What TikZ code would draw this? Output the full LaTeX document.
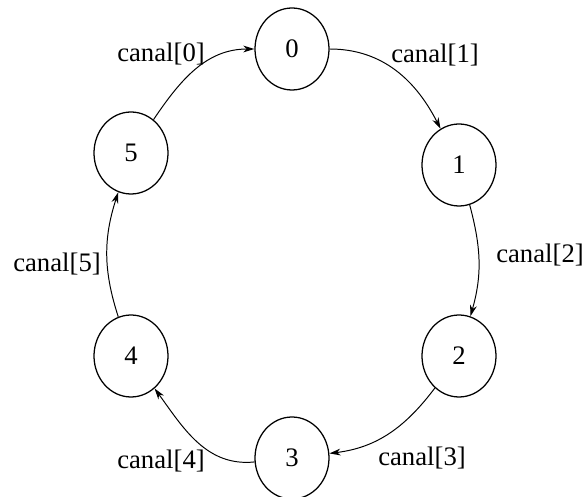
\documentclass[tikz,border=0pt]{standalone}
\usepackage{fontspec}
\setmainfont{Liberation Serif}
\usetikzlibrary{arrows.meta,shapes.geometric}

\begin{document}
\begin{tikzpicture}[
    >={Stealth[length=2.8mm, width=1.7mm, inset=0.9mm]},
    font=\fontsize{19}{22}\selectfont,
    proc/.style={draw, ellipse, line width=0.9pt, inner sep=0pt,
      minimum width=1.85cm, minimum height=2.05cm},
    chan/.style={inner sep=0pt},
    link/.style={->, line width=0.7pt},
  ]
  \useasboundingbox (0,0) rectangle (14.625,-12.425);

  % Processes
  \node[proc] (p0) at (7.3, -1.225) {0};
  \node[proc] (p1) at (11.475, -4.125) {1};
  \node[proc] (p2) at (11.475, -8.9) {2};
  \node[proc] (p3) at (7.3, -11.45) {3};
  \node[proc] (p4) at (3.275, -8.9) {4};
  \node[proc] (p5) at (3.275, -3.825) {5};

  % Channel labels
  \node[chan] (c0) at (4.025, -1.35) {canal[0]};
  \node[chan] (c1) at (10.875, -1.375) {canal[1]};
  \node[chan] (c2) at (13.5, -6.375) {canal[2]};
  \node[chan] (c3) at (10.55, -11.45) {canal[3]};
  \node[chan] (c4) at (4.025, -11.525) {canal[4]};
  \node[chan] (c5) at (1.425, -6.6) {canal[5]};

  % Ring
  \draw[link] (p5) to[out=56, in=180] (p0);
  \draw[link] (p0) to[out=0, in=117] (p1);
  \draw[link] (p1) to[out=-75, in=74] (p2);
  \draw[link] (p2) to[out=-127, in=7] (p3);
  \draw[link] (p3) to[out=186, in=-54] (p4);
  \draw[link] (p4) to[out=108, in=-108] (p5);
\end{tikzpicture}
\end{document}
